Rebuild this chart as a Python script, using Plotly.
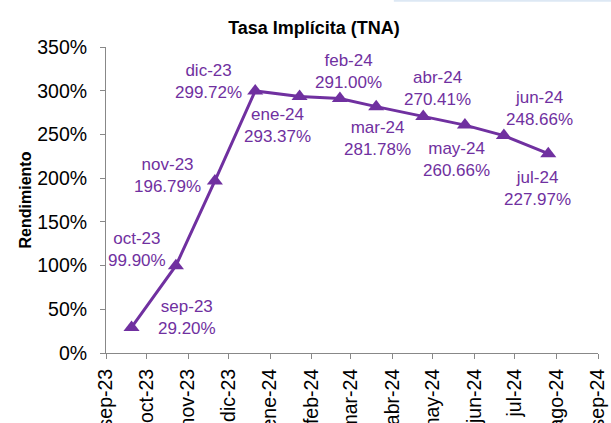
import plotly.graph_objects as go

# Data
dates = ["2023-09-20", "2023-10-23", "2023-11-21", "2023-12-21", "2024-01-23",
         "2024-02-22", "2024-03-20", "2024-04-24", "2024-05-25", "2024-06-23", "2024-07-26"]
names = ["sep-23", "oct-23", "nov-23", "dic-23", "ene-24", "feb-24",
         "mar-24", "abr-24", "may-24", "jun-24", "jul-24"]
values = [29.20, 99.90, 196.79, 299.72, 293.37, 291.00, 281.78, 270.41, 260.66, 248.66, 227.97]

tick_vals = ["2023-09-01", "2023-10-01", "2023-11-01", "2023-12-01", "2024-01-01", "2024-02-01",
             "2024-03-01", "2024-04-01", "2024-05-01", "2024-06-01", "2024-07-01", "2024-08-01",
             "2024-09-01"]
tick_text = ["sep-23", "oct-23", "nov-23", "dic-23", "ene-24", "feb-24", "mar-24", "abr-24",
             "may-24", "jun-24", "jul-24", "ago-24", "sep-24"]

# label offsets (px) relative to each point
label_dx = [55, -39, -47, -47, -22, 9, 1, 14, -8, 36, -11]
label_dy = [10, 16, 5, 9, -29, 27, -32, 28, -34, 27, -35]

PURPLE = "#7030A0"
FONT = "Liberation Sans, Arial, Helvetica, sans-serif"

fig = go.Figure()
fig.add_trace(go.Scatter(
    x=dates, y=[v / 100 for v in values], mode="lines+markers",
    line=dict(color=PURPLE, width=3),
    marker=dict(symbol="triangle-up", size=14, color=PURPLE),
    hoverinfo="skip", showlegend=False,
))

for d, n, v, dx, dy in zip(dates, names, values, label_dx, label_dy):
    fig.add_annotation(
        x=d, y=v / 100, xref="x", yref="y",
        text=f"{n}<br>{v:.2f}%", showarrow=False,
        xshift=dx, yshift=dy, align="center",
        font=dict(family=FONT, size=17, color=PURPLE),
    )

fig.add_shape(type="line", xref="paper", yref="paper", x0=0.585, x1=1.1, y0=1.151, y1=1.151,
              line=dict(color="#dde8f4", width=2))

fig.update_layout(
    width=611, height=423,
    margin=dict(l=106, r=13, t=47, b=70, autoexpand=False),
    paper_bgcolor="white", plot_bgcolor="white",
    font=dict(family=FONT, size=19.5, color="black"),
    title=dict(text="<b>Tasa Implícita (TNA)</b>", x=314 / 611, xanchor="center",
               xref="container", y=1 - 28 / 423, yanchor="middle",
               font=dict(family=FONT, size=18, color="black")),
    xaxis=dict(
        type="date", range=["2023-09-01", "2024-09-01"],
        tickvals=tick_vals, ticktext=tick_text, tickangle=-90,
        showgrid=False, zeroline=False, showline=True, linecolor="#888888", linewidth=1,
        ticks="outside", ticklen=5, tickcolor="#888888", ticklabelstandoff=2,
        tickfont=dict(family=FONT, size=19.5, color="black"), automargin=False,
    ),
    yaxis=dict(
        range=[0, 3.5], tickvals=[0, 0.5, 1, 1.5, 2, 2.5, 3, 3.5], tickformat=".0%",
        showgrid=False, zeroline=False, showline=True, linecolor="#888888", linewidth=1,
        ticks="outside", ticklen=5, tickcolor="#888888", ticklabelstandoff=9,
        tickfont=dict(family=FONT, size=19.5, color="black"),
        title=dict(text="<b>Rendimiento</b>", standoff=1,
                   font=dict(family=FONT, size=16, color="black")),
        automargin=False,
    ),
)

fig.write_html("out.html", config={"displayModeBar": False},
               post_script="document.body.style.margin='0';document.body.style.overflow='hidden';")
